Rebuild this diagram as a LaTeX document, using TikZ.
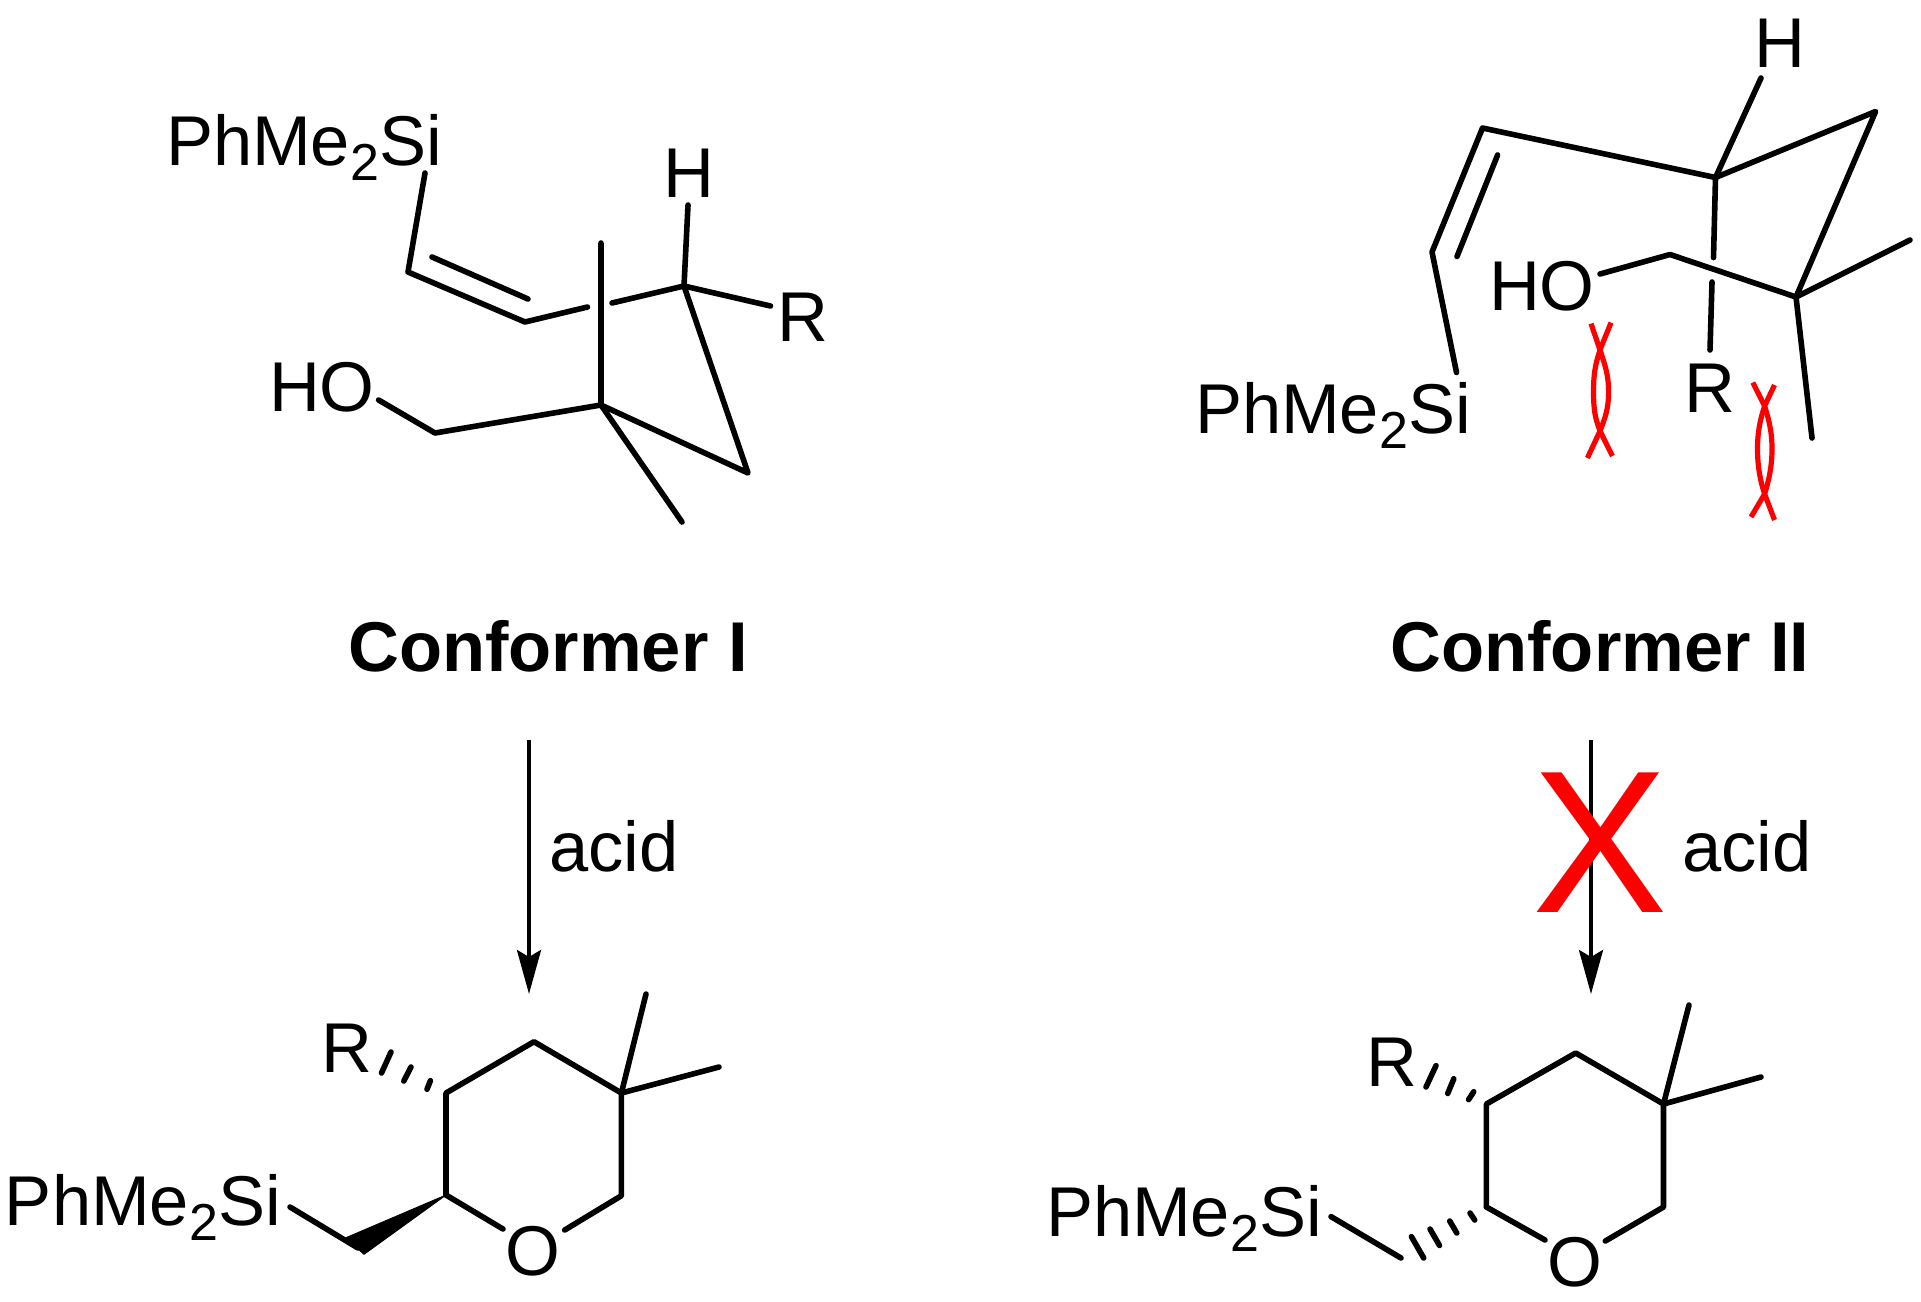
\documentclass[tikz,border=0pt]{standalone}
\usepackage{fontspec}
\setmainfont{Liberation Sans}
\usetikzlibrary{arrows.meta}
\newcommand{\chemsize}{\fontsize{70.5}{70.5}\selectfont}
\newcommand{\silyl}{PhMe\raisebox{-15pt}{\fontsize{52}{52}\selectfont 2}Si}
\tikzset{
  bond/.style={line width=5.6pt,line cap=round,line join=round,black},
  hashb/.style={line width=5.6pt,line cap=round,black},
  strain/.style={line width=5.2pt,red,line join=round},
  atom/.style={inner sep=0pt,outer sep=0pt,anchor=base west,font=\chemsize,text=black},
  title/.style={inner sep=0pt,outer sep=0pt,anchor=base,font=\chemsize\bfseries,text=black},
  react/.style={line width=4pt,black,-{Stealth[length=44pt,width=24pt,inset=7pt]}}
}
\begin{document}
\begin{tikzpicture}[x=1pt,y=-1pt]
\useasboundingbox (0,0) rectangle (1921,1301);
% ---------- Conformer I
\node[atom] (siA) at (166,165) {\silyl};
\node[atom,anchor=base] (hA) at (689,197) {H};
\node[atom] (rA) at (777,341) {R};
\node[atom] (hoA) at (269,411) {HO};
\draw[bond] (425,173) -- (408,272) -- (525,322) -- (587.5,307);
\draw[bond] (432,257) -- (528,299);
\draw[bond] (612,303) -- (684,286) -- (770.5,306);
\draw[bond] (688,205) -- (684,286) -- (748,473) -- (601,405);
\draw[bond] (601,243) -- (601,405) -- (682,522);
\draw[bond] (601,405) -- (435,433) -- (378.6,400);
\node[title] (confA) at (548,671) {Conformer I};
% ---------- Conformer II
\node[atom,anchor=base] (hB) at (1780,67) {H};
\node[atom] (hoB) at (1489,310) {HO};
\node[atom] (rB) at (1684,412) {R};
\node[atom] (siB) at (1195,433) {\silyl};
\draw[bond] (1761,78) -- (1715.5,177.5) -- (1875.6,111.5) -- (1796,297) -- (1910,240);
\draw[bond] (1796,297) -- (1812,438);
\draw[bond] (1796,297) -- (1670,254.5) -- (1600,274);
\draw[bond] (1715.5,177.5) -- (1713.5,257.6);
\draw[bond] (1712,282) -- (1710,350);
\draw[bond] (1715.5,177.5) -- (1482.5,128) -- (1432,252) -- (1456.5,372.5);
\draw[bond] (1497.6,155) -- (1457,256.5);
\draw[strain] (1591,323.6) -- (1600,350) .. controls (1605,365) and (1608.6,375) .. (1608.6,392) .. controls (1608.6,409) and (1605,418) .. (1600,431) -- (1587.4,458);
\draw[strain] (1611,322.6) -- (1600,350) .. controls (1595,365) and (1593.5,375) .. (1593.5,392) .. controls (1593.5,409) and (1595,418) .. (1600,431) -- (1612.4,456);
\draw[strain] (1752.8,382.5) -- (1764.6,406) .. controls (1769,420) and (1772,432) .. (1772,449) .. controls (1772,466) and (1769,480) .. (1764.6,494) -- (1751,517);
\draw[strain] (1774.5,385) -- (1764.6,406) .. controls (1760,420) and (1757.5,432) .. (1757.5,449) .. controls (1757.5,466) and (1760,480) .. (1764.6,494) -- (1774.5,520);
\node[title] (confB) at (1600,671) {Conformer II};
% ---------- arrows
\coordinate (aStart) at (529,740);
\coordinate (aEnd) at (529,994);
\coordinate (bStart) at (1591,740);
\coordinate (bEnd) at (1591,994);
\draw[react] (aStart) -- (aEnd);
\draw[react] (bStart) -- (bEnd);
\node[atom] (acidA) at (549,871) {acid};
\node[atom] (acidB) at (1682,871) {acid};
\node[inner sep=0pt,outer sep=0pt,anchor=base,text=red,font=\fontsize{203}{203}\selectfont] (cross) at (1600,912) {X};
% ---------- product I
\node[atom] (rC) at (321,1072) {R};
\node[atom,anchor=base] (oC) at (533,1275) {O};
\node[atom] (siC) at (5,1225) {\silyl};
\draw[bond] (446,1195) -- (446,1093) -- (534,1041.7) -- (621.4,1093) -- (621.4,1195.7) -- (564.7,1230);
\draw[bond] (446,1195) -- (503,1229);
\draw[bond] (621.4,1093) -- (646,994);
\draw[bond] (621.4,1093) -- (719,1067);
\draw[bond] (290,1207) -- (358,1248);
\draw[black,fill=black,line width=1pt,line join=round] (446,1195) -- (346,1237.7) -- (364,1254.3) -- cycle;
\draw[hashb] (430.4,1080.7) -- (427,1089.3);
\draw[hashb] (411,1067) -- (403.8,1081);
\draw[hashb] (391,1052) -- (381.5,1073);
% ---------- product II
\node[atom] (rD) at (1366,1086) {R};
\node[atom,anchor=base] (oD) at (1574.7,1286) {O};
\node[atom] (siD) at (1046,1236) {\silyl};
\draw[bond] (1486.4,1207) -- (1486.4,1104) -- (1575.7,1053) -- (1663.5,1104) -- (1663.5,1207) -- (1605.3,1241);
\draw[bond] (1486.4,1207) -- (1545,1240);
\draw[bond] (1663.5,1104) -- (1689,1005);
\draw[bond] (1663.5,1104) -- (1761,1077);
\draw[bond] (1331,1216.6) -- (1401,1258);
\draw[hashb] (1473.7,1091.7) -- (1468.6,1099.6);
\draw[hashb] (1453.8,1078.8) -- (1447.7,1093.5);
\draw[hashb] (1436,1065.6) -- (1426,1087);
\draw[hashb] (1470,1213) -- (1474.7,1220);
\draw[hashb] (1449.7,1221) -- (1456.8,1233);
\draw[hashb] (1430,1229) -- (1439.5,1245.5);
\draw[hashb] (1411.4,1236.6) -- (1423.7,1258);
\end{tikzpicture}
\end{document}
